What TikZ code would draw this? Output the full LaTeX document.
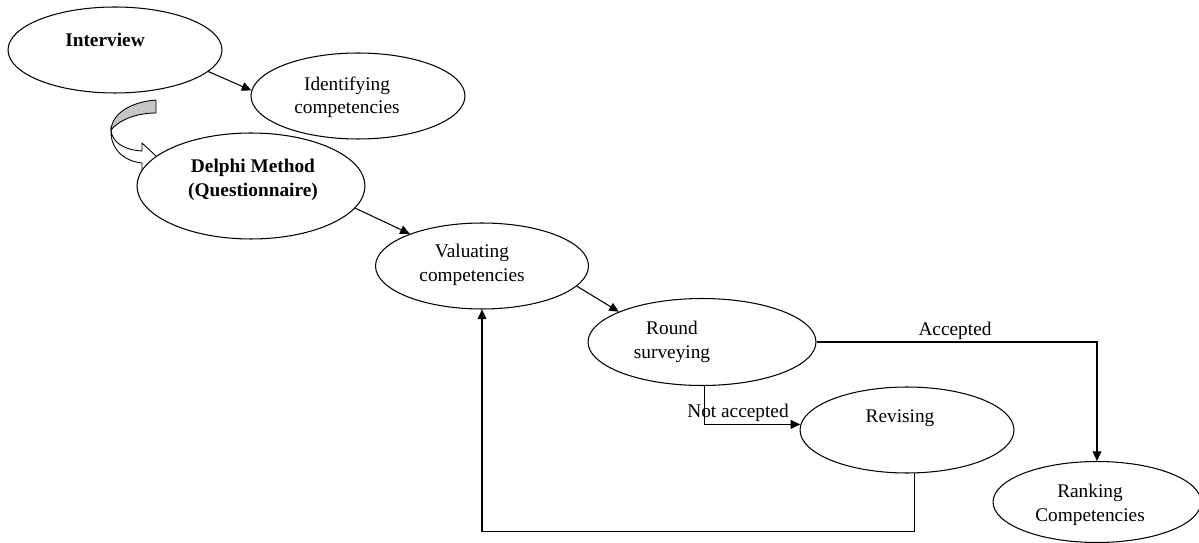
\documentclass[tikz,border=0pt]{standalone}
\usepackage{fontspec}
\setmainfont{Liberation Serif}
\usetikzlibrary{shapes,arrows.meta}

\begin{document}
\begin{tikzpicture}[x=0.02cm,y=-0.02cm]
\tikzstyle{phase}=[ellipse,draw,fill=white,inner sep=0pt,line width=0.6pt]
\tikzstyle{caption}=[align=center,inner sep=0pt,font=\fontsize{11}{13.3}\selectfont]
\tikzstyle{edgelabel}=[inner sep=1pt,font=\fontsize{11}{13.3}\selectfont]
\tikzstyle{flow}=[line width=0.6pt,-{Triangle[length=5.5pt,width=5pt]}]
\useasboundingbox (0,0) rectangle (1199,543);
% curved arrow from interview down to delphi
\filldraw[fill=gray!45,line width=0.5pt] (156,100) .. controls (130,102) and (112,114) .. (111,130)
  .. controls (118,121) and (135,113) .. (156,113) -- cycle;
\filldraw[fill=white,line width=0.5pt] (111,130) .. controls (112,143) and (125,150) .. (142,151)
  -- (142,143) -- (157,157) -- (142,171) -- (142,163) .. controls (122,161) and (110,147) .. (111,130) -- cycle;
\node[phase,minimum width=4.28cm,minimum height=1.72cm] (interview) at (115,50) {};
\node[phase,minimum width=4.28cm,minimum height=1.72cm] (identifying) at (358,96) {};
\node[phase,minimum width=4.56cm,minimum height=2.12cm] (delphi) at (251,186) {};
\node[phase,minimum width=4.26cm,minimum height=1.72cm] (valuate) at (482,266) {};
\node[phase,minimum width=4.56cm,minimum height=1.74cm] (round) at (702,342) {};
\node[phase,minimum width=4.28cm,minimum height=1.72cm] (revising) at (907,430) {};
\node[phase,minimum width=4.16cm,minimum height=1.62cm] (ranking) at (1097,502) {};
\node[caption,font=\fontsize{11}{13.3}\selectfont\bfseries] (interviewtxt) at (105,40) {Interview};
\node[caption] (identifyingtxt) at (347,97) {Identifying\\competencies};
\node[caption,font=\fontsize{11}{13.3}\selectfont\bfseries] (delphitxt) at (253,180) {Delphi Method\\(Questionnaire)};
\node[caption] (valuatetxt) at (472,265) {Valuating\\competencies};
\node[caption] (roundtxt) at (672,342) {Round\\surveying};
\node[caption] (revisingtxt) at (900,418) {Revising};
\node[caption] (rankingtxt) at (1090,505) {Ranking\\Competencies};
\draw[flow] (interview.-13) -- (identifying.177);
\draw[flow] (delphi.-12) -- (valuate.156);
\draw[flow] (valuate.-12) -- (round.160);
\draw[flow] (round.east) -| (ranking.north);
\draw[flow] (round.-87) |- (revising.177);
\draw[flow] (revising.-80) -- ++(0,58) -| (valuate.south);
\node[edgelabel] (accepted) at (955,331) {Accepted};
\node[edgelabel] (notaccepted) at (738,413) {Not accepted};
\end{tikzpicture}
\end{document}
